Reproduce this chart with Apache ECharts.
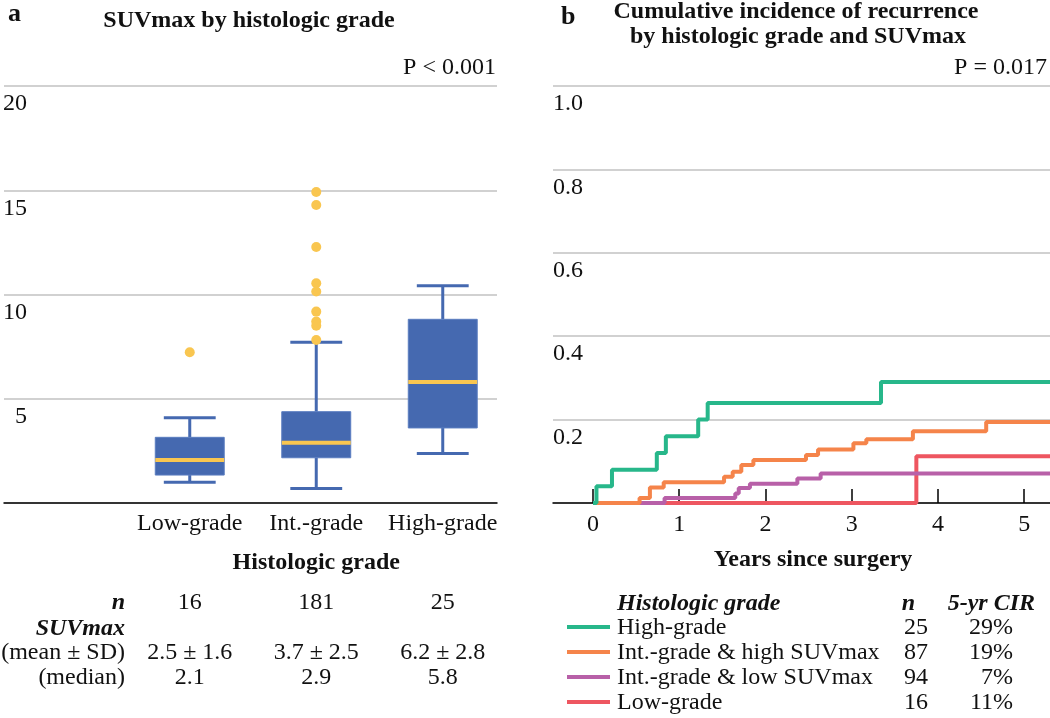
<!DOCTYPE html>
<html><head><meta charset="utf-8">
<script src="https://cdn.jsdelivr.net/npm/echarts@6/dist/echarts.min.js"></script>
<style>html,body{margin:0;padding:0;background:#fff}#c{width:1050px;height:718px}</style>
</head><body><div id="c"></div>
<script>
// ---------- Panel a data ----------
const categories = ['Low-grade', 'Int.-grade', 'High-grade'];
// [lower whisker, Q1, median, Q3, upper whisker]
const boxLow  = [1.00, 1.34, 2.06, 3.15, 4.09];
const boxInt  = [0.69, 2.17, 2.89, 4.38, 7.71];
const boxHigh = [2.38, 3.60, 5.80, 8.81, 10.42];
const outliersLow  = [7.23];
const outliersInt  = [14.92, 14.29, 12.28, 10.54, 10.14, 9.18, 8.70, 8.50, 7.82];
const outliersHigh = [];
const nA = ['16', '181', '25'];
const meanSD = ['2.5 ± 1.6', '3.7 ± 2.5', '6.2 ± 2.8'];
const medians = ['2.1', '2.9', '5.8'];

// ---------- Panel b data ----------
const highGrade = [[0,0],[0.04,0.04],[0.22,0.08],[0.74,0.12],[0.845,0.16],[1.22,0.20],[1.33,0.24],[3.34,0.29],[5.3,0.29]];
const intHigh = [[0,0],[0.54,0.012],[0.66,0.037],[0.82,0.05],[1.52,0.063],[1.62,0.075],[1.72,0.091],[1.86,0.103],[2.47,0.115],[2.61,0.128],[3.02,0.143],[3.17,0.153],[3.71,0.172],[4.56,0.194],[5.3,0.194]];
const intLow = [[0,0],[0.83,0.012],[1.65,0.023],[1.69,0.036],[1.82,0.046],[2.37,0.059],[2.64,0.071],[5.3,0.071]];
const lowGrade = [[0,0],[3.75,0.112],[5.3,0.112]];
const groupNames = ['High-grade', 'Int.-grade & high SUVmax', 'Int.-grade & low SUVmax', 'Low-grade'];
const groupN = ['25', '87', '94', '16'];
const groupCIR = ['29%', '19%', '7%', '11%'];

// ---------- styles ----------
const FF = '"Liberation Serif","Times New Roman",serif';
const FS = 24;
const BLUE = '#4569B0', YELLOW = '#F9C650', GRID = '#c2c2c2', TXT = '#111';
const lineColors = ['#27B78A', '#F5844A', '#B860A8', '#EE5660'];

const boxData = [boxLow, boxInt, boxHigh].map((s, i) => [i + 1, ...s]);
const outlierData = [];
[outliersLow, outliersInt, outliersHigh].forEach((arr, i) => arr.forEach(v => outlierData.push([i + 1, v])));

const chart = echarts.init(document.getElementById('c'), null, {renderer: 'canvas'});

const yLabelA = {inside: true, align: 'right', margin: 23, verticalAlign: 'top', padding: [6,0,0,0],
  fontFamily: FF, fontSize: FS, color: TXT, formatter: v => v === 0 ? '' : String(v)};
const yLabelB = {inside: true, align: 'left', margin: 0, verticalAlign: 'top', padding: [6,0,0,0],
  fontFamily: FF, fontSize: FS, color: TXT, formatter: v => v === 0 ? '' : v.toFixed(1)};

const option = {
  animation: false,
  backgroundColor: '#fff',
  grid: [
    {left: 0, top: 86, width: 497, height: 417},
    {left: 0, top: 86, width: 506, height: 417},
    {left: 553, top: 86, right: 0, height: 417},
    {left: 593, top: 86, right: 0, height: 417}
  ],
  xAxis: [
    {gridIndex: 0, type: 'value', min: 0, max: 1, axisLine: {show: true, lineStyle: {color: '#000', width: 1.5}},
      axisTick: {show: false}, axisLabel: {show: false}, splitLine: {show: false}},
    {gridIndex: 1, type: 'category', data: ['', ...categories], axisLine: {show: false}, axisTick: {show: false},
      axisLabel: {interval: 0, fontFamily: FF, fontSize: FS, color: TXT, margin: 9}, splitLine: {show: false}},
    {gridIndex: 2, type: 'value', min: 0, max: 1, axisLine: {show: true, lineStyle: {color: '#000', width: 1.5}},
      axisTick: {show: false}, axisLabel: {show: false}, splitLine: {show: false}},
    {gridIndex: 3, type: 'value', min: 0, max: 5.3, interval: 1, axisLine: {show: false},
      axisTick: {show: true, inside: true, length: 14, lineStyle: {color: '#000', width: 1.5}},
      axisLabel: {fontFamily: FF, fontSize: FS, color: TXT, margin: 10, showMaxLabel: false,
        formatter: v => Number.isInteger(v) ? String(v) : ''},
      splitLine: {show: false}}
  ],
  yAxis: [
    {gridIndex: 0, type: 'value', min: 0, max: 20, interval: 5, axisLine: {show: false}, axisTick: {show: false},
      axisLabel: yLabelA, splitLine: {show: true, lineStyle: {color: GRID, width: 1.5}}},
    {gridIndex: 1, type: 'value', min: 0, max: 20, interval: 5, show: false},
    {gridIndex: 2, type: 'value', min: 0, max: 1, interval: 0.2, axisLine: {show: false}, axisTick: {show: false},
      axisLabel: yLabelB, splitLine: {show: true, lineStyle: {color: GRID, width: 1.5}}},
    {gridIndex: 3, type: 'value', min: 0, max: 1, interval: 0.2, show: false}
  ],
  series: [
    {
      type: 'custom', xAxisIndex: 1, yAxisIndex: 1, data: boxData,
      encode: {x: 0, y: [1, 2, 3, 4, 5]},
      renderItem: function (params, api) {
        const x = api.value(0);
        const lo = api.coord([x, api.value(1)]);
        const q1 = api.coord([x, api.value(2)]);
        const md = api.coord([x, api.value(3)]);
        const q3 = api.coord([x, api.value(4)]);
        const hi = api.coord([x, api.value(5)]);
        const band = api.size([1, 0])[0];
        const bw = band * 0.545, cw = band * 0.41, cx = lo[0];
        const ws = {stroke: BLUE, lineWidth: 3};
        return {type: 'group', children: [
          {type: 'line', shape: {x1: cx, y1: hi[1], x2: cx, y2: q3[1]}, style: ws},
          {type: 'line', shape: {x1: cx, y1: q1[1], x2: cx, y2: lo[1]}, style: ws},
          {type: 'line', shape: {x1: cx - cw / 2, y1: hi[1], x2: cx + cw / 2, y2: hi[1]}, style: ws},
          {type: 'line', shape: {x1: cx - cw / 2, y1: lo[1], x2: cx + cw / 2, y2: lo[1]}, style: ws},
          {type: 'rect', shape: {x: cx - bw / 2, y: q3[1], width: bw, height: q1[1] - q3[1]},
            style: {fill: BLUE, stroke: '#5a7dc0', lineWidth: 1}},
          {type: 'line', shape: {x1: cx - bw / 2, y1: md[1], x2: cx + bw / 2, y2: md[1]},
            style: {stroke: YELLOW, lineWidth: 4}}
        ]};
      }
    },
    {type: 'scatter', xAxisIndex: 1, yAxisIndex: 1, data: outlierData, symbolSize: 10,
      itemStyle: {color: YELLOW, opacity: 1}, z: 3},
    {name: groupNames[3], type: 'line', xAxisIndex: 3, yAxisIndex: 3, step: 'end', data: lowGrade,
      showSymbol: false, lineStyle: {color: lineColors[3], width: 4}, z: 2},
    {name: groupNames[2], type: 'line', xAxisIndex: 3, yAxisIndex: 3, step: 'end', data: intLow,
      showSymbol: false, lineStyle: {color: lineColors[2], width: 4}, z: 3},
    {name: groupNames[1], type: 'line', xAxisIndex: 3, yAxisIndex: 3, step: 'end', data: intHigh,
      showSymbol: false, lineStyle: {color: lineColors[1], width: 4}, z: 4},
    {name: groupNames[0], type: 'line', xAxisIndex: 3, yAxisIndex: 3, step: 'end', data: highGrade,
      showSymbol: false, lineStyle: {color: lineColors[0], width: 4}, z: 5}
  ]
};
chart.setOption(option);

function txt(text, x, y, opts) {
  opts = opts || {};
  return {type: 'text', silent: true, z: 100, style: {
    text: text, x: x, y: y, fill: TXT,
    font: (opts.style || 'normal') + ' ' + (opts.weight || 'normal') + ' ' + (opts.size || FS) + 'px ' + FF,
    textAlign: opts.align || 'left', textVerticalAlign: 'middle'
  }};
}

const colX = [1, 2, 3].map(i => chart.convertToPixel({gridIndex: 1}, [i, 0])[0]);
const g = [];
// titles
g.push(txt('a', 8, 14, {weight: 'bold', size: 26}));
g.push(txt('SUVmax by histologic grade', 249, 21, {weight: 'bold', align: 'center'}));
g.push(txt('P < 0.001', 496, 68, {align: 'right'}));
g.push(txt('b', 561, 17, {weight: 'bold', size: 26}));
g.push(txt('Cumulative incidence of recurrence', 796, 12, {weight: 'bold', align: 'center'}));
g.push(txt('by histologic grade and SUVmax', 798, 37, {weight: 'bold', align: 'center'}));
g.push(txt('P = 0.017', 1047, 68, {align: 'right'}));
// axis names
g.push(txt('Histologic grade', colX[1], 563, {weight: 'bold', align: 'center'}));
g.push(txt('Years since surgery', 813, 560, {weight: 'bold', align: 'center'}));
// left table
g.push(txt('n', 125, 603, {weight: 'bold', style: 'italic', align: 'right'}));
g.push(txt('SUVmax', 125, 629, {weight: 'bold', style: 'italic', align: 'right'}));
g.push(txt('(mean ± SD)', 125, 653, {align: 'right'}));
g.push(txt('(median)', 125, 678, {align: 'right'}));
colX.forEach((x, i) => {
  g.push(txt(nA[i], x, 603, {align: 'center'}));
  g.push(txt(meanSD[i], x, 653, {align: 'center'}));
  g.push(txt(medians[i], x, 678, {align: 'center'}));
});
// right legend table
g.push(txt('Histologic grade', 617, 604, {weight: 'bold', style: 'italic'}));
g.push(txt('n', 915, 604, {weight: 'bold', style: 'italic', align: 'right'}));
g.push(txt('5-yr CIR', 1035, 604, {weight: 'bold', style: 'italic', align: 'right'}));
groupNames.forEach((name, i) => {
  const y = 628 + i * 25;
  g.push({type: 'line', silent: true, shape: {x1: 567, y1: y - 1, x2: 610, y2: y - 1},
    style: {stroke: lineColors[i], lineWidth: 4}});
  g.push(txt(name, 617, y));
  g.push(txt(groupN[i], 928, y, {align: 'right'}));
  g.push(txt(groupCIR[i], 1013, y, {align: 'right'}));
});
chart.setOption({graphic: g});
</script></body></html>
